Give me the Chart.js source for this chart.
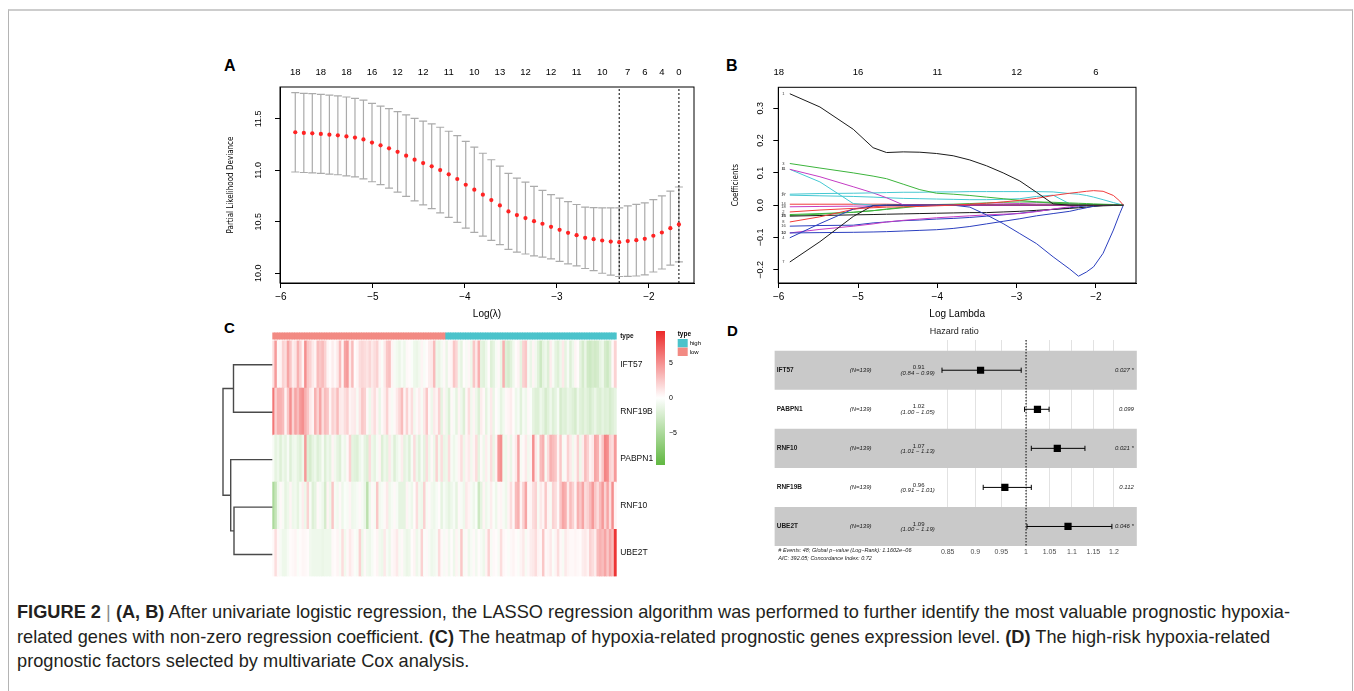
<!DOCTYPE html>
<html><head><meta charset="utf-8"><title>Figure 2</title>
<script src="https://cdn.jsdelivr.net/npm/chart.js@4.4.1/dist/chart.umd.min.js"></script>
<style>
html,body{margin:0;padding:0;background:#fff;}
body{width:1354px;height:691px;position:relative;overflow:hidden;font-family:'Liberation Sans',Arial,Helvetica,sans-serif;}
#frame{position:absolute;left:8px;top:9px;width:1345px;height:720px;border-top:2px solid #cdcdcd;border-left:1.5px solid #b4b4b4;border-right:1.5px solid #b4b4b4;box-sizing:border-box;}
canvas{position:absolute;}
.pl{position:absolute;font-weight:bold;color:#000;line-height:1;}
#cap{position:absolute;left:17px;top:600px;font-size:17px;line-height:24.5px;color:#231f20;white-space:nowrap;}
#cap .bar{color:#8a8a8a;font-weight:normal;}
#cap span.l{display:inline-block;}
</style></head><body>
<div id="frame"></div>
<div class="pl" style="left:224px;top:58px;font-size:16px">A</div>
<div class="pl" style="left:726px;top:58px;font-size:16px">B</div>
<div class="pl" style="left:224px;top:320px;font-size:15px">C</div>
<div class="pl" style="left:727px;top:323px;font-size:15px">D</div>
<canvas id="cA" width="480" height="265" style="left:222px;top:55px"></canvas>
<canvas id="cB" width="420" height="265" style="left:722px;top:55px"></canvas>
<canvas id="cDen" width="68" height="248" style="left:205px;top:336px"></canvas>
<canvas id="cC" width="440" height="260" style="left:265px;top:325px"></canvas>
<canvas id="cD" width="420" height="250" style="left:722px;top:325px"></canvas>
<div id="cap">
<span class="l" id="capL1"><b>FIGURE 2</b> <span class="bar">|</span> <b>(A, B)</b> After univariate logistic regression, the LASSO regression algorithm was performed to further identify the most valuable prognostic hypoxia-</span><br>
<span class="l">related genes with non-zero regression coefficient. <b>(C)</b> The heatmap of hypoxia-related prognostic genes expression level. <b>(D)</b> The high-risk hypoxia-related</span><br>
<span class="l">prognostic factors selected by multivariate Cox analysis.</span>
</div>
<script>
// ---------------- Panel A data (cross-validation curve) ----------------
const logLambdaA = [-5.844,-5.751,-5.659,-5.566,-5.473,-5.381,-5.288,-5.195,-5.103,-5.010,
  -4.917,-4.825,-4.732,-4.639,-4.547,-4.454,-4.361,-4.269,-4.176,-4.083,
  -3.991,-3.898,-3.805,-3.713,-3.620,-3.527,-3.435,-3.342,-3.249,-3.157,
  -3.064,-2.971,-2.879,-2.786,-2.693,-2.601,-2.508,-2.415,-2.323,-2.230,
  -2.137,-2.045,-1.952,-1.859,-1.767,-1.674];
const cvMeanA = [11.370,11.364,11.360,11.354,11.347,11.340,11.330,11.318,11.300,11.270,
  11.243,11.214,11.180,11.143,11.104,11.071,11.039,11.003,10.961,10.916,
  10.860,10.812,10.763,10.711,10.659,10.601,10.565,10.536,10.506,10.481,
  10.451,10.422,10.393,10.370,10.344,10.331,10.318,10.308,10.302,10.312,
  10.321,10.334,10.364,10.396,10.438,10.474];
const cvSdA = [0.386,0.385,0.385,0.384,0.384,0.383,0.383,0.382,0.382,0.381,
  0.381,0.386,0.391,0.396,0.401,0.407,0.412,0.416,0.419,0.421,
  0.422,0.414,0.403,0.392,0.381,0.370,0.359,0.349,0.338,0.325,
  0.312,0.307,0.302,0.298,0.298,0.306,0.318,0.327,0.334,0.342,
  0.348,0.350,0.352,0.355,0.360,0.364];
const nzeroPosA = [-5.844,-5.566,-5.288,-5.010,-4.732,-4.454,-4.176,-3.898,-3.620,-3.342,-3.064,-2.786,-2.508,-2.230,-2.045,-1.859,-1.674];
const nzeroLabelsA = ['18','18','18','16','12','12','11','10','13','12','12','11','10','7','6','4','0'];
const xTicksA = [-6,-5,-4,-3,-2];
const yTicksA = [10.0,10.5,11.0,11.5];
const yTickLabelsA = ['10.0','10.5','11.0','11.5'];
const lambdaMinA = -2.323, lambda1seA = -1.674;

// ---------------- Panel B data (coefficient paths) ----------------
const logLambdaB = [-5.86,-5.48,-5.06,-4.81,-4.64,-4.43,-4.22,-4.01,-3.80,-3.59,-3.38,-3.17,-2.96,-2.75,-2.54,-2.33,-2.22,-2.12,-2.03,-1.91,-1.78,-1.70,-1.655];
const coefV1  = [0.345,0.304,0.235,0.178,0.163,0.165,0.164,0.160,0.153,0.140,0.122,0.100,0.075,0.040,0.004,0,0,0,0,0,0,0,0];
const coefV2  = [-0.021,-0.015,-0.010,-0.008,-0.006,-0.005,-0.004,-0.002,0.000,0.003,0.006,0.010,0.015,0.021,0.030,0.037,0.040,0.043,0.045,0.043,0.030,0.013,0];
const coefV3  = [0.129,0.115,0.100,0.090,0.082,0.065,0.048,0.037,0.034,0.030,0.025,0.020,0.015,0.010,0.006,0.004,0.003,0.003,0.002,0.002,0.001,0.001,0];
const coefV4  = [-0.101,-0.057,-0.012,-0.002,0,0,0,0,0,-0.006,-0.030,-0.057,-0.088,-0.119,-0.160,-0.198,-0.220,-0.207,-0.191,-0.149,-0.077,-0.026,0];
const coefV5  = [0.034,0.036,0.037,0.038,0.039,0.040,0.040,0.041,0.041,0.042,0.042,0.042,0.042,0.042,0.041,0.036,0.034,0.030,0.025,0.017,0.008,0.003,0];
const coefV6  = [0.111,0.088,0.057,0.038,0.023,0.001,0,0,0,0,0,0,0,0,0,0,0,0,0,0,0,0,0];
const coefV7  = [-0.176,-0.113,-0.035,-0.001,0,0,0,0,0,0,0,0,0,0,0,0,0,0,0,0,0,0,0];
const coefV8  = [-0.052,-0.036,-0.013,-0.005,-0.002,0,0,0,0,0,0,0,0,0,0,0,0,0,0,0,0,0,0];
const coefV9  = [-0.029,-0.026,-0.022,-0.017,-0.012,-0.006,-0.001,0.002,0.003,0.005,0.007,0.009,0.010,0.010,0.009,0.007,0.006,0.005,0.004,0.003,0.002,0.001,0];
const coefV10 = [-0.086,-0.085,-0.084,-0.083,-0.082,-0.080,-0.078,-0.076,-0.072,-0.066,-0.058,-0.050,-0.042,-0.033,-0.026,-0.019,-0.013,-0.008,-0.003,0,0,0,0];
const coefV11 = [0.111,0.072,0.005,0,0,0,0,0,0,0,0,0,0,0,0,0,0,0,0,0,0,0,0];
const coefV12 = [-0.086,-0.075,-0.065,-0.058,-0.052,-0.047,-0.043,-0.039,-0.036,-0.033,-0.030,-0.028,-0.026,-0.020,-0.012,-0.005,-0.002,0,0,0,0,0,0];
const coefV13 = [-0.034,-0.032,-0.030,-0.029,-0.028,-0.027,-0.026,-0.025,-0.024,-0.023,-0.023,-0.021,-0.019,-0.016,-0.013,-0.010,-0.008,-0.006,-0.004,-0.002,-0.001,0,0];
const coefV14 = [0.003,0.003,0.003,0.003,0.003,0.002,0.002,0.002,0.001,0,0,0,0,0,0,0,0,0,0,0,0,0,0];
const coefV15 = [-0.032,-0.028,-0.022,-0.017,-0.013,-0.008,-0.003,0,0,0,0,0,0,0,0,0,0,0,0,0,0,0,0];
const coefV16 = [-0.065,-0.063,-0.062,-0.055,-0.052,-0.048,-0.046,-0.043,-0.041,-0.038,-0.034,-0.030,-0.025,-0.019,-0.013,-0.008,-0.005,-0.002,0,0,0,0,0];
const coefV17 = [0.031,0.029,0.027,0.025,0.023,0.021,0.020,0.019,0.018,0.017,0.017,0.018,0.020,0.027,0.031,0.004,0,0,0,0,0,0,0];
const coefV18 = [-0.005,-0.004,-0.003,-0.002,-0.001,0,0,0.001,0.001,0.002,0.003,0.004,0.005,0.007,0.007,0.005,0.003,0.002,0.001,0,0,0,0];
const coefListB = [coefV1,coefV2,coefV3,coefV4,coefV5,coefV6,coefV7,coefV8,coefV9,coefV10,coefV11,coefV12,coefV13,coefV14,coefV15,coefV16,coefV17,coefV18];
const coefColorsB = ['#1a1a1a','#f03c3c','#3cb43c','#2b3fbf','#45c8d2','#c43cc4'];
const topTicksB = [-6,-5,-4,-3,-2];
const topLabelsB = ['18','16','11','12','6'];
const xTicksB = [-6,-5,-4,-3,-2];
const yTicksB = [-0.2,-0.1,0.0,0.1,0.2,0.3];
const yTickLabelsB = ['\u22120.2','\u22120.1','0.0','0.1','0.2','0.3'];

// ---------------- Panel C data (heatmap) ----------------
const heatGenes = ['IFT57','RNF19B','PABPN1','RNF10','UBE2T'];
const typeNames = ['low','high'];
const typeCounts = [70,69];
const exprIFT57 = [1.5,4.5,0.3,0.5,2.0,1.5,4.0,2.5,0.8,1.2, 3.5,2.0,0.5,5.0,2.5,2.0,1.0,0.5,3.0,2.5,
 3.0,2.0,0.5,0.2,0.8,0.3,1.0,3.0,0.5,4.0, 4.5,1.0,3.0,0.2,0.5,1.5,1.8,1.5,1.2,1.8,
 1.0,1.5,2.0,0.5,-0.3,1.0,2.5,2.8,0.5,-0.5, -0.8,-1.2,-0.5,-1.0,0.3,0.2,-0.3,-1.0,-1.2,-0.8,
 0.5,-0.4,0.2,0.8,1.0,3.0,-1.0,-1.3,-0.6,0.3,
 -1.2,0.3,0.5,2.5,1.8,-0.8,-1.5,0.2,-0.5,0.4, -1.0,2.5,1.0,3.5,-1.5,-1.8,-1.0,0.2,-2.0,-1.5,
 -0.5,0.3,-1.2,3.5,-2.0,-2.5,-1.8,-0.8,0.2,0.5, -1.5,2.0,2.5,-0.5,-1.2,0.5,-0.8,-1.8,-3.0,-1.5,
 -1.0,-2.0,0.8,-0.5,-1.5,-2.0,-1.0,1.0,-1.5,-0.5, -2.0,-1.0,0.5,0.2,-1.5,-2.5,-1.2,-2.8,-3.0,-2.5,
 -2.8,-2.5,-1.5,-1.0,-2.5,-3.0,-2.0,0.3,2.0];
const exprRNF19B = [6.0,2.0,3.5,3.5,3.0,0.5,2.5,5.0,2.0,4.0, 3.0,4.5,5.0,3.5,2.5,1.0,0.5,3.5,2.0,4.0,
 1.5,3.0,2.5,0.5,2.0,1.5,3.0,1.0,0.8,1.5, 2.0,0.5,0.8,1.0,-0.5,1.2,2.5,2.0,0.3,-1.0,
 0.8,1.5,0.5,-1.2,0.3,0.8,2.0,0.5,-0.5,0.3, 1.0,1.8,3.0,0.5,2.0,0.5,1.5,-0.8,0.3,0.8,
 -0.5,1.0,2.5,0.3,-1.0,1.0,0.5,2.0,-1.5,0.5,
 -1.0,-2.0,0.3,-0.5,-1.5,0.5,-1.0,-2.0,0.3,1.5, -0.8,0.5,-1.0,-2.0,0.8,0.3,-1.5,-0.5,1.0,-1.2,
 0.2,-0.5,-1.5,-0.8,0.3,0.5,0.8,0.2,-1.0,-0.5, -1.8,-0.5,-1.0,0.3,-0.3,-1.5,-2.0,-2.0,-1.0,-1.5,
 -2.5,-1.8,-1.0,-2.0,-1.5,-0.5,-2.5,-1.8,-2.0,-1.2, -1.5,-2.0,-2.5,-1.0,-1.8,-2.2,-1.5,-2.0,-2.5,-1.8,
 -1.2,-2.0,-2.2,-1.5,-2.0,-1.8,-2.5,-2.0,-1.5];
const exprPABPN1 = [-0.5,-1.5,-1.0,-2.0,-1.0,-1.5,-0.5,-2.0,-1.0,-0.8, -1.5,-2.0,-1.0,4.5,-2.0,-2.5,-1.5,-1.0,-2.0,-1.5,
 -0.5,-2.0,-1.0,-1.5,0.5,-0.8,-1.5,-2.0,-0.5,-1.0, 0.3,2.0,-1.5,-1.8,-2.0,-1.0,-0.5,-1.5,-2.0,1.5,
 -1.0,-1.5,-0.5,0.5,-2.0,-1.0,-1.5,1.0,-0.8,-2.0, -1.0,-0.5,0.8,-1.5,-1.0,-2.0,-0.5,1.5,-1.0,-1.8,
 -0.5,-1.5,1.5,-1.0,0.3,-1.0,2.0,-0.8,1.5,-1.2,
 -1.0,1.5,-0.5,-1.0,-0.5,0.5,1.5,-1.0,0.5,1.0, -0.8,0.5,1.5,-1.5,0.3,-1.0,0.8,-0.5,1.5,-1.2,
 0.5,4.5,5.0,-0.8,-1.0,0.5,-1.2,0.3,1.0,4.0, -0.5,0.3,1.0,-0.8,0.5,5.0,1.0,-0.5,3.0,3.5,
 -0.5,1.5,3.5,3.0,2.5,0.5,2.5,-0.5,0.3,2.0, 1.0,-0.8,0.5,2.0,-1.0,0.8,3.0,2.0,0.5,1.0,
 4.0,3.5,1.0,2.5,5.5,5.0,2.0,1.5,4.5];
const exprRNF10 = [-5.0,-3.5,-1.0,0.3,-0.5,-1.5,-1.0,0.5,-1.0,-0.8, -1.5,-0.5,0.8,-1.0,2.0,-0.5,-2.0,-1.5,0.3,-0.5,
 -1.0,-2.5,0.5,-1.0,2.5,-0.5,-0.8,0.3,-1.0,-0.3, -0.5,0.5,-1.0,-0.8,-0.5,0.3,-0.5,-1.2,-4.0,-1.0,
 0.3,-0.5,2.5,-0.8,-0.5,0.3,1.0,-1.0,-0.5,0.3, -0.5,-1.5,-1.5,-1.5,0.5,-0.5,-1.0,0.2,1.5,-0.8,
 -1.0,2.0,-0.5,0.3,-0.8,-1.0,-0.5,0.2,-1.5,-0.5,
 -1.0,-1.5,-1.0,-0.5,-1.5,0.3,-0.5,-1.0,1.0,0.5, -0.5,-1.0,-0.3,-3.0,-1.5,0.5,-1.0,-0.5,0.8,-0.3,
 -1.0,0.3,0.5,-0.5,-1.0,0.5,1.5,0.3,3.0,3.5, 0.5,2.0,4.0,0.3,0.5,1.5,2.0,-0.5,1.0,0.5,
 2.5,0.5,-0.5,2.0,1.5,0.3,2.5,4.0,3.5,1.0, 3.0,2.0,0.5,3.5,2.5,4.0,1.5,2.0,3.0,4.5,
 2.5,1.5,3.0,4.5,2.0,4.0,1.5,5.0,0.5];
const exprUBE2T = [0.3,1.5,0.3,-0.5,-1.0,-1.0,-0.5,0.2,0.3,0.5, -0.3,0.2,0.4,0.3,0.2,-0.8,-1.0,-1.0,-1.0,-1.0,
 -1.2,-1.0,-1.0,-1.0,0.3,0.2,0.5,-0.5,1.5,-0.8, 0.3,1.0,0.5,-0.3,-0.5,2.0,-1.0,0.3,-0.8,-1.0,
 -0.5,0.2,0.5,-0.8,-1.0,1.0,-0.5,-1.0,0.3,0.5, 1.0,-0.5,0.3,-0.8,-1.2,-1.0,0.2,0.5,-1.0,-0.5,
 2.0,-0.3,0.3,-0.5,-1.0,-0.8,-0.5,1.5,0.3,-0.5,
 0.3,-0.8,0.2,-1.0,0.5,-0.5,2.5,-0.5,0.3,-1.0, -0.5,0.3,-0.8,0.2,-0.5,-1.0,0.5,2.0,-0.5,0.3,
 0.2,-0.5,1.5,0.3,0.2,-0.3,0.3,0.5,0.2,-0.3, 0.5,1.0,-0.5,0.3,0.8,1.0,1.5,0.5,0.3,2.5,
 0.3,0.5,1.0,-0.3,0.5,1.5,0.3,-0.5,1.0,0.5, 0.3,0.3,0.5,0.3,0.2,0.8,1.0,0.5,2.0,1.5,
 0.8,3.0,3.5,3.0,4.0,2.5,4.0,3.0,9.0];
const heatRowsTopDown = [exprIFT57, exprRNF19B, exprPABPN1, exprRNF10, exprUBE2T];
const legendTicksC = [5,0,-5];
// dendrogram: merges of rows (leaf names or previous merge index) with heights
const dendroMerges = [['IFT57','RNF19B',7.9],['RNF10','UBE2T',7.8],['PABPN1',1,8.46],[0,2,10]];

// ---------------- Panel D data (forest plot) ----------------
const genesD = ['IFT57','PABPN1','RNF10','RNF19B','UBE2T'];
const nD = [139,139,139,139,139];
const hrD = [0.910,1.024,1.067,0.957,1.091];
const hrLoD = [0.840,0.997,1.011,0.915,1.002];
const hrHiD = [0.990,1.049,1.130,1.011,1.195];
const hrTextD = ['0.91','1.02','1.07','0.96','1.09'];
const ciTextD = ['(0.84 \u2212 0.99)','(1.00 \u2212 1.05)','(1.01 \u2212 1.13)','(0.91 \u2212 1.01)','(1.00 \u2212 1.19)'];
const pTextD = ['0.027 *','0.099','0.021 *','0.112','0.046 *'];
const hrTicksD = [0.85,0.9,0.95,1,1.05,1.1,1.15,1.2];
const hrTickLabelsD = ['0.85','0.9','0.95','1','1.05','1.1','1.15','1.2'];
const footerD = ['# Events: 48; Global p\u2212value (Log\u2212Rank): 1.1602e\u221206','AIC: 392.05; Concordance Index: 0.72'];

// ---------------- common setup ----------------
const SANS = "'Liberation Sans', Arial, Helvetica, sans-serif";
const NARROW = "'Liberation Sans Narrow','DejaVu Sans Condensed','Liberation Sans',Arial,sans-serif";
Chart.defaults.font.family = SANS;
Chart.defaults.color = '#000';
Chart.defaults.animation = false;
Chart.defaults.responsive = false;
Chart.defaults.devicePixelRatio = 1;
Chart.defaults.events = [];
Chart.defaults.plugins.legend.display = false;
Chart.defaults.plugins.tooltip.enabled = false;
const fmtMinus = v => (v < 0 ? '\u2212' : '') + Math.abs(v);
const setTicks = arr => (s => { s.ticks = arr.map(v => ({value: v})); });

const boxPlugin = { id: 'box', afterDatasetsDraw(chart) {
  const {ctx, chartArea: a} = chart; ctx.save(); ctx.strokeStyle = '#000'; ctx.lineWidth = 1;
  ctx.strokeRect(a.left, a.top, a.right - a.left, a.bottom - a.top); ctx.restore(); } };
const rotY = { id: 'rotY', afterDraw(chart, args, o) {
  const s = chart.scales.y, ctx = chart.ctx; ctx.save(); ctx.font = o.font; ctx.fillStyle = '#000';
  ctx.textAlign = 'center'; ctx.textBaseline = 'middle';
  s.ticks.forEach((t, i) => { const y = s.getPixelForValue(t.value); ctx.save();
    ctx.translate(chart.chartArea.left - o.offset, y); ctx.rotate(-Math.PI / 2); ctx.fillText(o.labels[i], 0, 0); ctx.restore(); });
  ctx.restore(); } };

function xAxisR(ticks, title, min, max) {
  return { type: 'linear', position: 'bottom', min, max, afterBuildTicks: setTicks(ticks),
    ticks: { callback: v => fmtMinus(v), font: { size: 10 }, padding: 3, maxRotation: 0, autoSkip: false },
    grid: { drawOnChartArea: false, tickLength: 5, color: '#000' }, border: { color: '#000' },
    title: { display: true, text: title, font: { size: 10 }, padding: { top: 2, bottom: 0 } },
    afterFit: s => { s.height = 37; } };
}

// ---------------- Panel A ----------------
const errBarsA = { id: 'errA', beforeDatasetsDraw(chart) {
  const x = chart.scales.x, y = chart.scales.y, ctx = chart.ctx; ctx.save();
  ctx.strokeStyle = '#ababab'; ctx.lineWidth = 1.2;
  logLambdaA.forEach((l, i) => { const px = x.getPixelForValue(l);
    const t = y.getPixelForValue(cvMeanA[i] + cvSdA[i]), b = y.getPixelForValue(cvMeanA[i] - cvSdA[i]);
    ctx.beginPath(); ctx.moveTo(px, t); ctx.lineTo(px, b);
    ctx.moveTo(px - 4, t); ctx.lineTo(px + 4, t); ctx.moveTo(px - 4, b); ctx.lineTo(px + 4, b); ctx.stroke(); });
  ctx.restore(); } };
const yMinA = 9.905, yMaxA = 11.81;
new Chart(document.getElementById('cA'), {
  type: 'scatter',
  data: { datasets: [
    { data: logLambdaA.map((x, i) => ({ x, y: cvMeanA[i] })), pointRadius: 2.1, pointBackgroundColor: '#ff2323', pointBorderWidth: 0 },
    { data: [{ x: lambdaMinA, y: yMinA }, { x: lambdaMinA, y: yMaxA }], showLine: true, pointRadius: 0, borderColor: '#000', borderWidth: 1, borderDash: [2, 2] },
    { data: [{ x: lambda1seA, y: yMinA }, { x: lambda1seA, y: yMaxA }], showLine: true, pointRadius: 0, borderColor: '#000', borderWidth: 1, borderDash: [2, 2] }
  ] },
  options: {
    layout: { padding: { left: 0, right: 8, top: 0, bottom: 0 } },
    plugins: { rotY: { labels: yTickLabelsA, offset: 21, font: '9px ' + SANS } },
    scales: {
      x: xAxisR(xTicksA, 'Log(\u03bb)', -6.01, -1.51),
      xTop: { type: 'linear', position: 'top', min: -6.01, max: -1.51, afterBuildTicks: setTicks(nzeroPosA),
        ticks: { callback: (v, i) => nzeroLabelsA[i], font: { size: 9.5 }, padding: 9, maxRotation: 0, autoSkip: false },
        grid: { display: false, drawTicks: false }, border: { display: false }, afterFit: s => { s.height = 32; } },
      y: { type: 'linear', min: yMinA, max: yMaxA, afterBuildTicks: setTicks(yTicksA), ticks: { display: false },
        grid: { drawOnChartArea: false, tickLength: 5, color: '#000' }, border: { color: '#000' },
        title: { display: true, text: 'Partial Likelihood Deviance', font: { size: 8, family: NARROW }, padding: { top: 4, bottom: 0 } },
        afterFit: s => { s.width = 58; } }
    }
  },
  plugins: [errBarsA, boxPlugin, rotY]
});

// ---------------- Panel B ----------------
const varLabelsB = { id: 'varLab', afterDatasetsDraw(chart) {
  const x = chart.scales.x, y = chart.scales.y, ctx = chart.ctx; ctx.save();
  ctx.font = '4px ' + SANS; ctx.fillStyle = '#333'; ctx.textAlign = 'center'; ctx.textBaseline = 'middle';
  coefListB.forEach((c, i) => ctx.fillText(String(i + 1), x.getPixelForValue(-5.94), y.getPixelForValue(c[0])));
  ctx.restore(); } };
new Chart(document.getElementById('cB'), {
  type: 'scatter',
  data: { datasets: coefListB.map((c, i) => ({
    data: logLambdaB.map((x, j) => ({ x, y: c[j] })), showLine: true, pointRadius: 0,
    borderColor: coefColorsB[i % 6], borderWidth: 1, tension: 0 })) },
  options: {
    layout: { padding: { left: 0, right: 6, top: 0, bottom: 0 } },
    plugins: { rotY: { labels: yTickLabelsB, offset: 18, font: '9px ' + SANS } },
    scales: {
      x: xAxisR(xTicksB, 'Log Lambda', -6.005, -1.495),
      xTop: { type: 'linear', position: 'top', min: -6.005, max: -1.495, afterBuildTicks: setTicks(topTicksB),
        ticks: { callback: (v, i) => topLabelsB[i], font: { size: 9.5 }, padding: 9, maxRotation: 0, autoSkip: false },
        grid: { display: false, drawTicks: false }, border: { display: false }, afterFit: s => { s.height = 32.3; } },
      y: { type: 'linear', min: -0.241, max: 0.365, afterBuildTicks: setTicks(yTicksB), ticks: { display: false },
        grid: { drawOnChartArea: false, tickLength: 5, color: '#000' }, border: { color: '#000' },
        title: { display: true, text: 'Coefficients', font: { size: 8, family: NARROW }, padding: { top: 9, bottom: 0 } },
        afterFit: s => { s.width = 56.3; } }
    }
  },
  plugins: [boxPlugin, rotY, varLabelsB]
});

// ---------------- Panel C (heatmap) ----------------
const HEAT_MAX = 9.5;
const RED = [236, 42, 42], GREEN = [98, 184, 66];
function heatColor(v) {
  if (v === undefined || v === null) return '#ffffff';
  const t = Math.max(-1, Math.min(1, v / HEAT_MAX)); const c = t >= 0 ? RED : GREEN; const a = Math.abs(t);
  return 'rgb(' + c.map(k => Math.round(255 + (k - 255) * a)).join(',') + ')';
}
const typeColors = { low: '#f28a83', high: '#4bc3cb' };
const sampleLabels = exprIFT57.map((_, i) => 'S' + (i + 1));
const sampleType = i => (i < typeCounts[0] ? typeNames[0] : typeNames[1]);
const rowsBottomUp = heatRowsTopDown.slice().reverse();
const geneBottomUp = heatGenes.slice().reverse();
const GAP = 0.042, TYPEH = 0.141;
const heatDatasets = rowsBottomUp.map((row, r) => ({
  label: geneBottomUp[r], data: sampleLabels.map(() => 1),
  backgroundColor: sampleLabels.map((_, i) => heatColor(row[i])), borderWidth: 0, stack: 's' }));
heatDatasets.push({ label: 'gap', data: sampleLabels.map(() => GAP), backgroundColor: 'rgba(0,0,0,0)', borderWidth: 0, stack: 's' });
heatDatasets.push({ label: 'type', data: sampleLabels.map(() => TYPEH), backgroundColor: sampleLabels.map((_, i) => typeColors[sampleType(i)]), borderWidth: 0, stack: 's' });
const yMaxC = 5 + GAP + TYPEH;
const rowTickVals = [0.5, 1.5, 2.5, 3.5, 4.5, 5 + GAP + TYPEH / 2];
const rowTickLabels = geneBottomUp.concat(['type']);
const heatLegend = { id: 'heatLegend', afterDraw(chart) {
  const ctx = chart.ctx, a = chart.chartArea; ctx.save();
  const x0 = a.right + 39.3, w = 9, yTop = 6, yBot = 140, vTop = 9.5, vBot = -9.6;
  const g = ctx.createLinearGradient(0, yTop, 0, yBot);
  for (let k = 0; k <= 40; k++) { const v = vTop + (vBot - vTop) * k / 40; g.addColorStop(k / 40, heatColor(v)); }
  ctx.fillStyle = g; ctx.fillRect(x0, yTop, w, yBot - yTop);
  ctx.fillStyle = '#000'; ctx.font = '7px ' + SANS; ctx.textAlign = 'left'; ctx.textBaseline = 'middle';
  legendTicksC.forEach(v => ctx.fillText(fmtMinus(v), x0 + w + 4, yTop + (vTop - v) / (vTop - vBot) * (yBot - yTop)));
  const tx = a.right + 61;
  ctx.font = 'bold 6.5px ' + SANS; ctx.fillText('type', tx, 9.5);
  ['high', 'low'].forEach((n, k) => { ctx.fillStyle = typeColors[n]; ctx.fillRect(tx, 14 + k * 8.6, 10, 8.4);
    ctx.fillStyle = '#000'; ctx.font = '6px ' + SANS; ctx.fillText(n, tx + 12, 18.3 + k * 8.6); });
  ctx.restore(); } };
new Chart(document.getElementById('cC'), {
  type: 'bar',
  data: { labels: sampleLabels, datasets: heatDatasets },
  options: {
    layout: { padding: { left: 7.3, right: 0, top: 7.3, bottom: 6.7 } },
    datasets: { bar: { barPercentage: 1, categoryPercentage: 1, inflateAmount: 0.4 } },
    scales: {
      x: { display: false, stacked: true },
      y: { stacked: true, position: 'right', min: 0, max: yMaxC, afterBuildTicks: setTicks(rowTickVals),
        ticks: { callback: (v, i) => rowTickLabels[i], padding: 3.5, autoSkip: false, color: '#111',
          font: c => (c.index === 5 ? { size: 6.5, weight: 'bold' } : { size: 8.5 }) },
        grid: { display: false, drawTicks: false }, border: { display: false }, afterFit: s => { s.width = 88.3; } }
    }
  },
  plugins: [heatLegend]
});

// dendrogram
const leafY = { IFT57: 4.5, RNF19B: 3.5, PABPN1: 2.5, RNF10: 1.5, UBE2T: 0.5 };
const nodePos = [];
const posOf = n => (typeof n === 'number' ? nodePos[n] : { h: 0, y: leafY[n] });
const dendroSets = dendroMerges.map(([l, r, h]) => {
  const pl = posOf(l), pr = posOf(r); nodePos.push({ h, y: (pl.y + pr.y) / 2 });
  return { data: [{ x: pl.h, y: pl.y }, { x: h, y: pl.y }, { x: h, y: pr.y }, { x: pr.h, y: pr.y }],
    showLine: true, pointRadius: 0, borderColor: '#4a4a4a', borderWidth: 1.4, clip: false };
});
new Chart(document.getElementById('cDen'), {
  type: 'scatter', data: { datasets: dendroSets },
  options: { layout: { padding: { left: 0, right: 0, top: 5, bottom: 5.7 } },
    scales: { x: { display: false, reverse: true, min: 0, max: 13.6 }, y: { display: false, min: 0, max: 5 } } }
});

// ---------------- Panel D (forest plot) ----------------
const xMinD = 0.5936, xMaxD = 1.2586, yMinD = -0.774, yMaxD = 4.5;
const forestText = { id: 'forestText', afterDraw(chart) {
  const ctx = chart.ctx, a = chart.chartArea, ys = chart.scales.y; ctx.save();
  ctx.fillStyle = '#1a1a1a'; ctx.textBaseline = 'middle';
  genesD.forEach((g, i) => { const y = ys.getPixelForValue(i);
    ctx.textAlign = 'left'; ctx.font = 'bold 6.5px ' + SANS; ctx.fillText(g, a.left + 5, y);
    ctx.font = 'italic 6px ' + SANS; ctx.fillText('(N=' + nD[i] + ')', a.left + 78, y);
    ctx.textAlign = 'center'; ctx.font = '6px ' + SANS; ctx.fillText(hrTextD[i], a.left + 147, y - 2.5);
    ctx.font = 'italic 6px ' + SANS; ctx.fillText(ciTextD[i], a.left + 146, y + 2.8);
    ctx.textAlign = 'right'; ctx.fillText(pTextD[i], a.right - 3, y); });
  ctx.textAlign = 'center'; ctx.font = '9px ' + SANS; ctx.fillStyle = '#222';
  ctx.fillText('Hazard ratio', (a.left + a.right) / 2, 6.7);
  ctx.textAlign = 'left'; ctx.font = 'italic 5.5px ' + SANS; ctx.fillStyle = '#1a1a1a';
  footerD.forEach((t, k) => ctx.fillText(t, a.left + 6.6, a.bottom + 4 + k * 8.3));
  ctx.restore(); } };
const forestSets = [
  { type: 'bar', indexAxis: 'y', order: 10, data: genesD.map((g, i) => ({ y: i, x: [xMinD, xMaxD] })),
    backgroundColor: genesD.map((g, i) => (i % 2 === 0 ? '#c9c9c9' : 'rgba(255,255,255,0)')),
    borderWidth: 0, barPercentage: 1, categoryPercentage: 1, inflateAmount: 0 },
  { type: 'line', order: 5, data: [{ x: 1, y: yMinD }, { x: 1, y: yMaxD }], borderColor: '#000', borderWidth: 1, borderDash: [1.5, 1.5], pointRadius: 0 }
];
genesD.forEach((g, i) => forestSets.push({ type: 'line', order: 3,
  data: [{ x: hrLoD[i], y: i }, { x: hrHiD[i], y: i }], borderColor: '#000', borderWidth: 1,
  pointStyle: 'line', pointRotation: 90, pointRadius: 2.6, pointBorderColor: '#000', pointBorderWidth: 1 }));
forestSets.push({ type: 'scatter', order: 1, data: genesD.map((g, i) => ({ x: hrD[i], y: i })),
  pointStyle: 'rect', pointRadius: 5.1, pointBackgroundColor: '#000', pointBorderWidth: 0 });
new Chart(document.getElementById('cD'), {
  type: 'bar', data: { datasets: forestSets },
  options: {
    layout: { padding: { left: 49.7, right: 2, top: 15, bottom: 0 } },
    scales: {
      x: { type: 'logarithmic', min: xMinD, max: xMaxD, offset: false, afterBuildTicks: setTicks(hrTicksD), z: 1,
        ticks: { callback: (v, i) => hrTickLabelsD[i], font: { size: 7 }, color: '#4d4d4d', padding: 2, autoSkip: false, maxRotation: 0 },
        grid: { color: '#e2e2e2', drawTicks: false, lineWidth: 1, offset: false }, border: { display: false },
        afterFit: s => { s.height = 29; } },
      y: { type: 'linear', display: false, reverse: true, min: yMinD, max: yMaxD, offset: false,
        grid: { offset: false }, afterBuildTicks: setTicks(genesD.map((g, i) => i)) }
    }
  },
  plugins: [forestText]
});

// ---------------- caption width fit ----------------
(function () {
  const cap = document.getElementById('cap'), l1 = document.getElementById('capL1');
  const w = l1.getBoundingClientRect().width, target = 1273;
  const fs = Math.max(15, Math.min(19, 17 * target / w));
  cap.style.fontSize = fs.toFixed(2) + 'px';
  const w2 = l1.getBoundingClientRect().width;
  cap.style.letterSpacing = ((target - w2) / l1.textContent.length).toFixed(3) + 'px';
})();
</script>
</body></html>
